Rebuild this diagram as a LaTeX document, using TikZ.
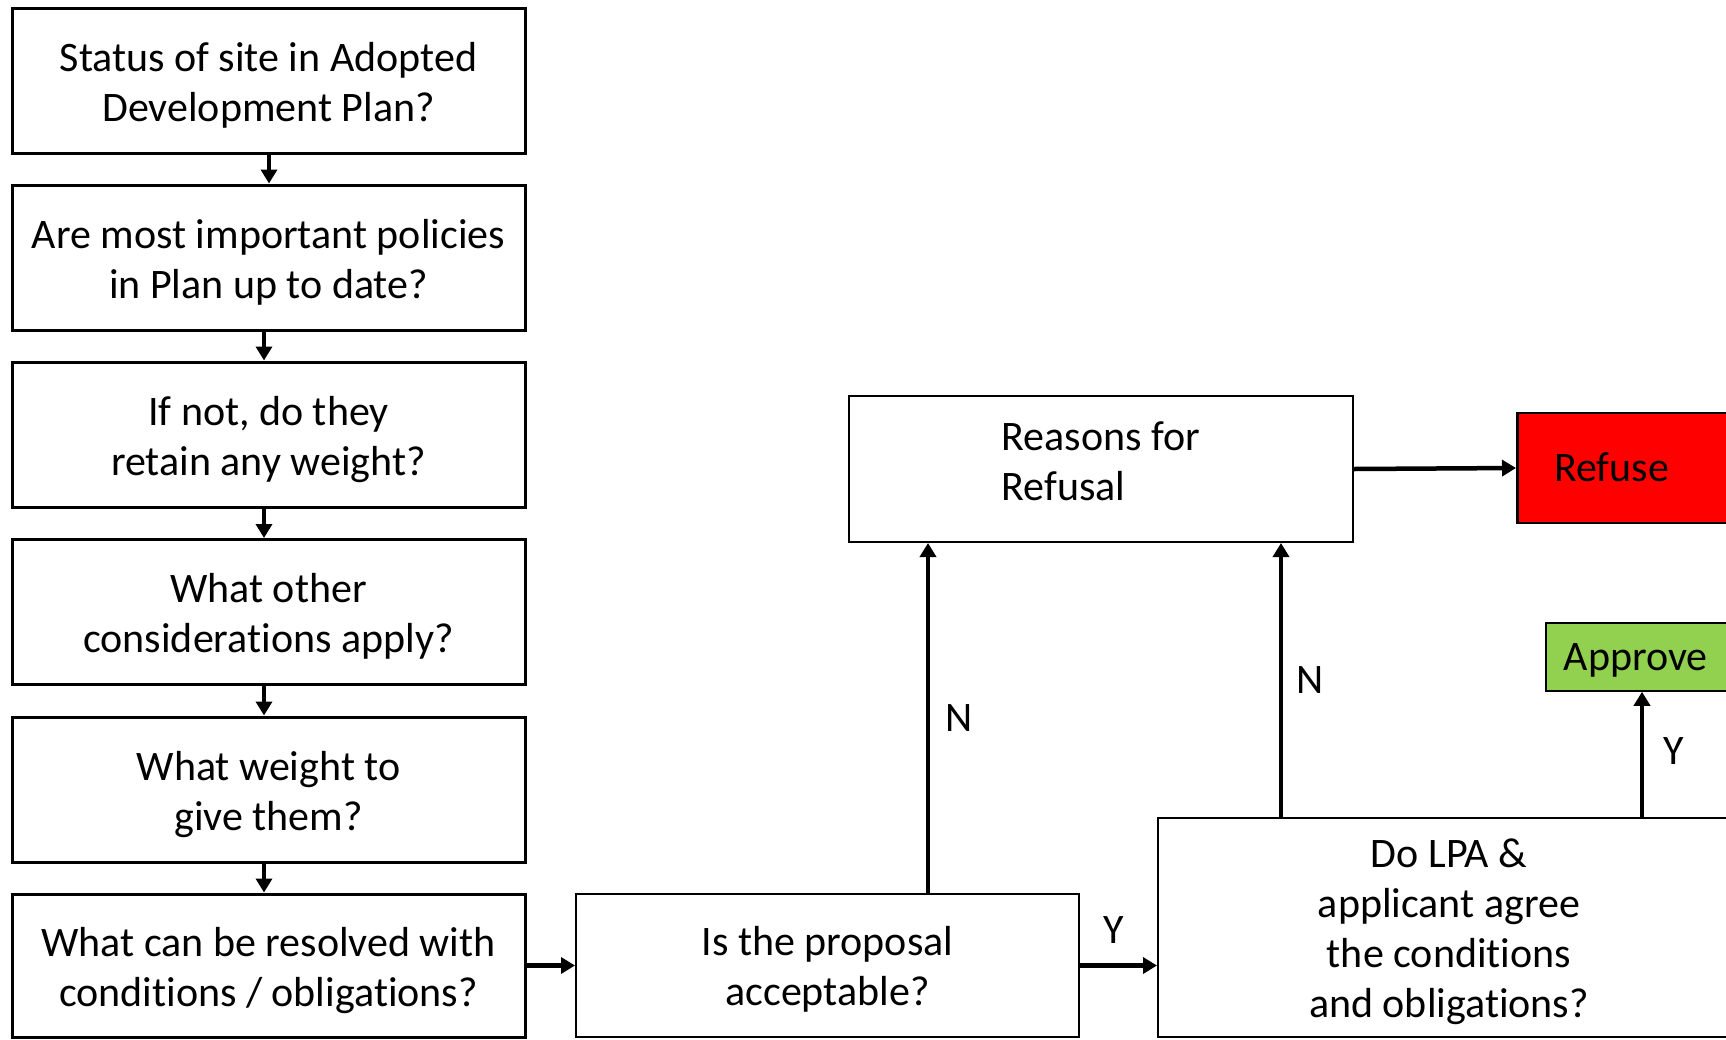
\documentclass[tikz,border=0pt]{standalone}
\usepackage{fontspec}
\setmainfont{Carlito}[Ligatures={NoCommon}]
\usetikzlibrary{arrows.meta}
\newcommand{\celltext}[3][c]{\raisebox{#2}[\height][\depth]{\begin{tabular}{@{}#1@{}}#3\end{tabular}}}
\begin{document}
\begin{tikzpicture}[x=1pt,y=-1pt,
  every node/.style={font=\fontsize{42}{50}\selectfont},
  lbox/.style={draw=black,line width=3pt,minimum width=513pt,minimum height=145pt,inner sep=0pt},
  rbox/.style={draw=black,line width=2pt,inner sep=0pt},
  arr/.style={line width=4.5pt,-{Triangle[length=14pt,width=16pt]}},
  lab/.style={inner sep=0pt}]
\clip (0,0) rectangle (1726,1039);
\fill[white] (0,0) rectangle (1726,1039);
\node[lbox] (b1) at (268.5,80.5) {\celltext{-5.5pt}{Status of site in Adopted\\Development Plan?}};
\node[lbox] (b2) at (268.5,257.5) {\celltext{-5.5pt}{Are most important policies\\in Plan up to date?}};
\node[lbox] (b3) at (268.5,434.5) {\celltext{-5.5pt}{If not, do they\\retain any weight?}};
\node[lbox] (b4) at (268.5,612) {\celltext{-5.5pt}{What other\\considerations apply?}};
\node[lbox] (b5) at (268.5,789.5) {\celltext{-5.5pt}{What weight to\\give them?}};
\node[lbox,minimum height=143pt] (b6) at (268.5,965.5) {\celltext{-5.5pt}{What can be resolved with\\conditions / obligations?}};
\node[rbox,minimum width=503pt,minimum height=143pt] (prop) at (827.5,965.5) {\celltext{-4.5pt}{Is the proposal\\acceptable?}};
\node[rbox,minimum width=582pt,minimum height=219pt] (lpa) at (1449,927.5) {\celltext{-4.5pt}{Do LPA \&\\applicant agree\\the conditions\\and obligations?}};
\node[rbox,minimum width=504pt,minimum height=146pt] (reasons) at (1101,469) {\celltext[l]{3.3pt}{Reasons for\\Refusal}};
\node[rbox,fill=red,line width=2.5pt,anchor=west,minimum width=244pt,minimum height=110pt] (refuse) at (1516,468) {\makebox[170pt][l]{\celltext{-3.3pt}{Refuse}}};
\node[rbox,fill={rgb,255:red,146;green,208;blue,80},line width=1.5pt,anchor=west,minimum width=215pt,minimum height=68pt] (approve) at (1545,657) {\makebox[179pt][l]{\celltext{-3.3pt}{Approve}}};
\coordinate (c0) at (264,0);
\coordinate (c1) at (928,0);
\coordinate (c2) at (1281,0);
\coordinate (c3) at (1642,0);
\draw[arr] ([xshift=0.5pt]b1.south) -- ([xshift=0.5pt]b2.north);
\draw[arr] (c0 |- b2.south) -- (c0 |- b3.north);
\draw[arr] (c0 |- b3.south) -- (c0 |- b4.north);
\draw[arr] (c0 |- b4.south) -- (c0 |- b5.north);
\draw[arr] (c0 |- b5.south) -- (c0 |- b6.north);
\draw[arr] (b6.east) -- (prop.west);
\draw[arr] (prop.east) -- (prop.east -| lpa.west);
\draw[arr] (c1 |- prop.north) -- (c1 |- reasons.south);
\draw[arr] (c2 |- lpa.north) -- (c2 |- reasons.south);
\draw[arr] (c3 |- lpa.north) -- (c3 |- approve.south);
\draw[arr] (reasons.east) -- (refuse.west);
\node[lab] (ly1) at (1114,930) {Y};
\node[lab] (ln1) at (959,718) {N};
\node[lab] (ln2) at (1310,680) {N};
\node[lab] (ly2) at (1674,751) {Y};
\end{tikzpicture}
\end{document}
